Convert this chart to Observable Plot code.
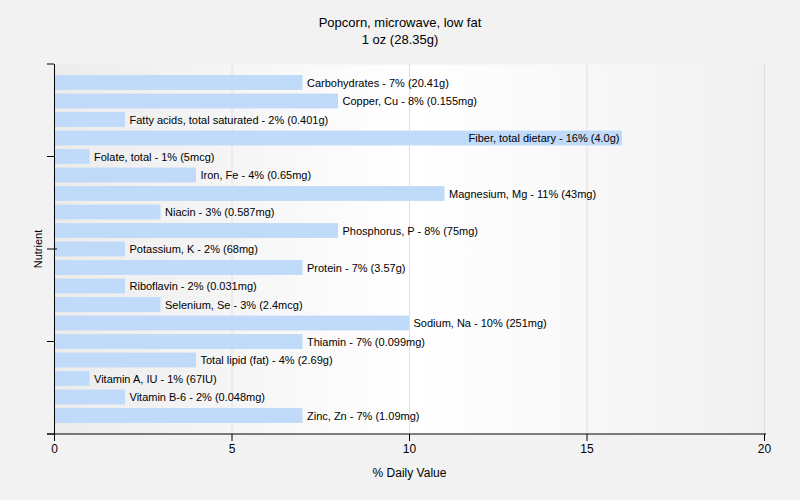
<!DOCTYPE html>
<html>
<head>
<meta charset="utf-8">
<script src="https://cdn.jsdelivr.net/npm/d3@7"></script>
<script src="https://cdn.jsdelivr.net/npm/@observablehq/plot@0.6"></script>
<style>
  html, body { margin: 0; padding: 0; background: #f2f2f2; }
  #wrap { position: relative; width: 800px; height: 500px; font-family: "Liberation Sans", Arial, sans-serif; }
  #title { position: absolute; left: 0; top: 14px; width: 800px; text-align: center; font-size: 13px; line-height: 17px; color: #000; }
  #chart { position: absolute; left: 0; top: 0; }
</style>
</head>
<body>
<div id="wrap">
  <div id="chart"></div>
  <div id="title">Popcorn, microwave, low fat<br>1 oz (28.35g)</div>
</div>
<script>
const nutrients = [
  "Carbohydrates", "Copper, Cu", "Fatty acids, total saturated", "Fiber, total dietary",
  "Folate, total", "Iron, Fe", "Magnesium, Mg", "Niacin", "Phosphorus, P", "Potassium, K",
  "Protein", "Riboflavin", "Selenium, Se", "Sodium, Na", "Thiamin", "Total lipid (fat)",
  "Vitamin A, IU", "Vitamin B-6", "Zinc, Zn"
];
const dailyValues = [7, 8, 2, 16, 1, 4, 11, 3, 8, 2, 7, 2, 3, 10, 7, 4, 1, 2, 7];
const amounts = [
  "20.41g", "0.155mg", "0.401g", "4.0g", "5mcg", "0.65mg", "43mg", "0.587mg", "75mg", "68mg",
  "3.57g", "0.031mg", "2.4mcg", "251mg", "0.099mg", "2.69g", "67IU", "0.048mg", "1.09mg"
];
const xTicks = [0, 5, 10, 15, 20];

const data = nutrients.map((n, i) => ({
  name: n,
  value: dailyValues[i],
  label: `${n} - ${dailyValues[i]}% (${amounts[i]})`,
  inside: dailyValues[i] >= 15
}));

const chart = Plot.plot({
  width: 800,
  height: 500,
  marginTop: 64,
  marginBottom: 66,
  marginLeft: 54,
  marginRight: 36,
  style: { background: "transparent", fontFamily: "Liberation Sans, Arial, sans-serif", fontSize: "11px", color: "#000" },
  x: { domain: [0, 20] },
  y: { domain: nutrients, paddingInner: 0.2, paddingOuter: 0.6, round: false, axis: null },
  marks: [
    Plot.frame({ fill: "url(#bggrad)", stroke: "none" }),
    Plot.gridX(xTicks.filter(d => d > 0), { stroke: "#e0e0e0", strokeOpacity: 1 }),
    Plot.barX(data, { x: "value", y: "name", fill: "#c0dafa" }),
    Plot.text(data.filter(d => !d.inside), { x: "value", y: "name", text: "label", textAnchor: "start", dx: 4, fill: "#000", fontSize: 11 }),
    Plot.text(data.filter(d => d.inside), { x: "value", y: "name", text: "label", textAnchor: "end", dx: -3, fill: "#000", fontSize: 11 }),
    Plot.axisX(xTicks, { tickSize: 7, tickPadding: 3, fontSize: 12, label: "% Daily Value", labelAnchor: "center", labelArrow: "none", labelOffset: 42 }),
    Plot.ruleX([0], { stroke: "#000" })
  ]
});

document.getElementById("chart").appendChild(chart);

// gradient for plot background
const svg = d3.select(chart);
const defs = svg.insert("defs", ":first-child");
const grad = defs.append("linearGradient").attr("id", "bggrad").attr("x1", "0%").attr("x2", "100%").attr("y1", "0%").attr("y2", "0%");
grad.append("stop").attr("offset", "0%").attr("stop-color", "#ececec");
grad.append("stop").attr("offset", "50%").attr("stop-color", "#ffffff");
grad.append("stop").attr("offset", "100%").attr("stop-color", "#f1f1f1");

// axis lines and y ticks derived from scales
const xs = chart.scale("x");
const ys = chart.scale("y");
const [y0, y1] = ys.range;
const x0 = xs.range[0], x1 = xs.range[1];
const g = svg.append("g").attr("stroke", "#000");
g.append("line").attr("x1", x0 - 7).attr("x2", x1 + 2).attr("y1", y1).attr("y2", y1);
[0, 0.25, 0.5, 0.75, 1].forEach(f => {
  const yy = y0 + (y1 - y0) * f;
  g.append("line").attr("x1", x0 - 7).attr("x2", f === 0.5 ? x0 + 3 : x0).attr("y1", yy).attr("y2", yy);
});
svg.append("text")
  .attr("transform", `translate(${x0 - 12},${(y0 + y1) / 2}) rotate(-90)`)
  .attr("text-anchor", "middle")
  .attr("font-size", 11)
  .attr("fill", "#000")
  .text("Nutrient");
</script>
</body>
</html>
